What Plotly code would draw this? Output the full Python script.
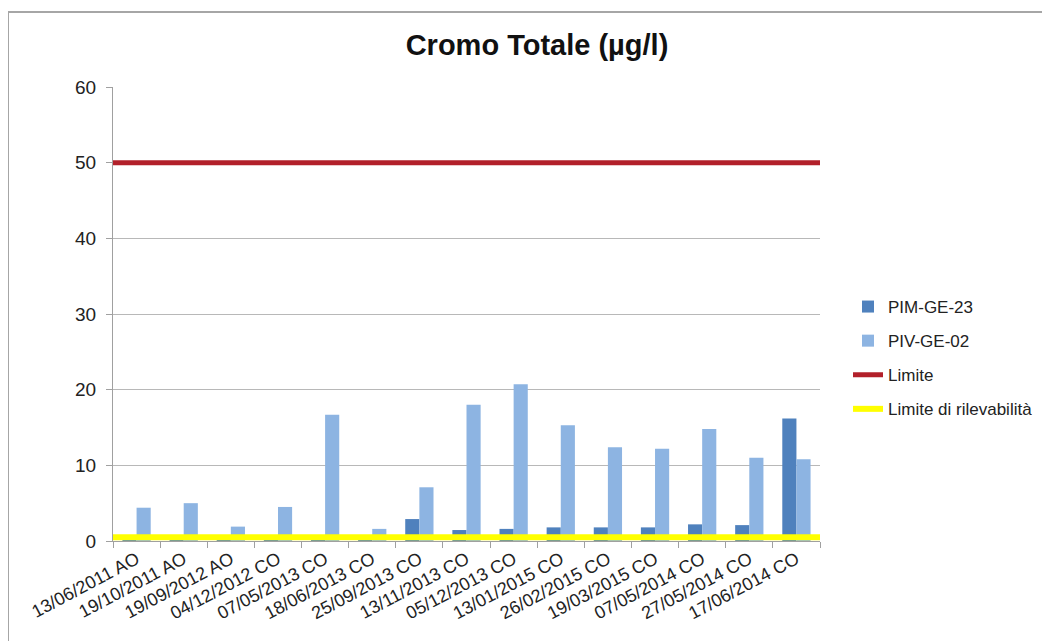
import plotly.graph_objects as go

categories = ["13/06/2011 AO", "19/10/2011 AO", "19/09/2012 AO", "04/12/2012 CO",
              "07/05/2013 CO", "18/06/2013 CO", "25/09/2013 CO", "13/11/2013 CO",
              "05/12/2013 CO", "13/01/2015 CO", "26/02/2015 CO", "19/03/2015 CO",
              "07/05/2014 CO", "27/05/2014 CO", "17/06/2014 CO"]
pim_ge_23 = [0.3, 0.3, 0.3, 0.3, 0.4, 0.4, 2.9, 1.45, 1.6, 1.8, 1.8, 1.8, 2.2, 2.1, 16.2]
piv_ge_02 = [4.4, 5.0, 1.9, 4.5, 16.7, 1.6, 7.1, 18.0, 20.7, 15.3, 12.4, 12.2, 14.8, 11.0, 10.8]
limite = 50
limite_rilevabilita = 0.5
y_ticks = [0, 10, 20, 30, 40, 50, 60]

FONT = "Liberation Sans, Arial, sans-serif"

fig = go.Figure()
fig.add_trace(go.Bar(x=categories, y=pim_ge_23, name="PIM-GE-23",
                     marker=dict(color="#4F81BD", line=dict(width=0)),
                     legendgroup="a"))
fig.add_trace(go.Bar(x=categories, y=piv_ge_02, name="PIV-GE-02",
                     marker=dict(color="#8DB4E2", line=dict(width=0)),
                     legendgroup="b"))
fig.add_trace(go.Scatter(x=[0, 1], y=[limite, limite], name="Limite", mode="lines",
                         line=dict(color="#B2202A", width=5), xaxis="x2",
                         legendgroup="c"))
fig.add_trace(go.Scatter(x=[0, 1], y=[limite_rilevabilita, limite_rilevabilita],
                         name="Limite di rilevabilità", mode="lines",
                         line=dict(color="#FFFF00", width=6), xaxis="x2",
                         legendgroup="d"))

# page body has an 8px margin: work in page pixels and convert
OFF = 8
W, H = 1042, 633
PL, PR, PT, PB = 113, 820, 87, 541          # plot area in page pixels
L = PL - OFF
R = W - (PR - OFF)
T = PT - OFF
B = H - (PB - OFF)
pw, ph = PR - PL, PB - PT
def px(xp): return (xp - PL) / pw
def py(yp): return (PB - yp) / ph

fig.update_layout(
    width=W, height=H,
    margin=dict(l=L, r=R, t=T, b=B),
    paper_bgcolor="white", plot_bgcolor="white",
    font=dict(family=FONT, size=17, color="#222222"),
    title=dict(text="<b>Cromo Totale (µg/l)</b>", x=(537 - OFF) / W, xanchor="center",
               y=1 - (45 - OFF) / H, yanchor="middle",
               font=dict(family=FONT, size=29, color="#111111")),
    barmode="group", bargap=0.4, bargroupgap=0.0,
    xaxis=dict(type="category", tickangle=-28, showgrid=False,
               showline=True, linecolor="#A0A0A0", linewidth=1,
               ticks="outside", ticklen=6, tickcolor="#A0A0A0",
               tickson="boundaries",
               tickfont=dict(family=FONT, size=18, color="#222222")),
    xaxis2=dict(overlaying="x", range=[0, 1], visible=False, fixedrange=True),
    yaxis=dict(range=[0, 60], tickvals=y_ticks, showgrid=True, gridcolor="#B8B8B8",
               gridwidth=1, showline=True, linecolor="#A0A0A0", linewidth=1,
               ticks="outside", ticklen=6, tickcolor="#A0A0A0", zeroline=False,
               ticklabelstandoff=6,
               tickfont=dict(family=FONT, size=19, color="#222222")),
    legend=dict(x=px(848), y=py(289), xanchor="left", yanchor="top",
                traceorder="grouped", tracegroupgap=9,
                font=dict(family=FONT, size=17, color="#222222"),
                bgcolor="rgba(0,0,0,0)"),
    shapes=[
        dict(type="line", xref="paper", yref="paper", x0=px(8), x1=px(1060),
             y0=py(12), y1=py(12), line=dict(color="#A6A6A6", width=2)),
        dict(type="line", xref="paper", yref="paper", x0=px(8), x1=px(8),
             y0=py(12), y1=py(660), line=dict(color="#A6A6A6", width=2)),
    ],
)

fig.write_html("out.html")
